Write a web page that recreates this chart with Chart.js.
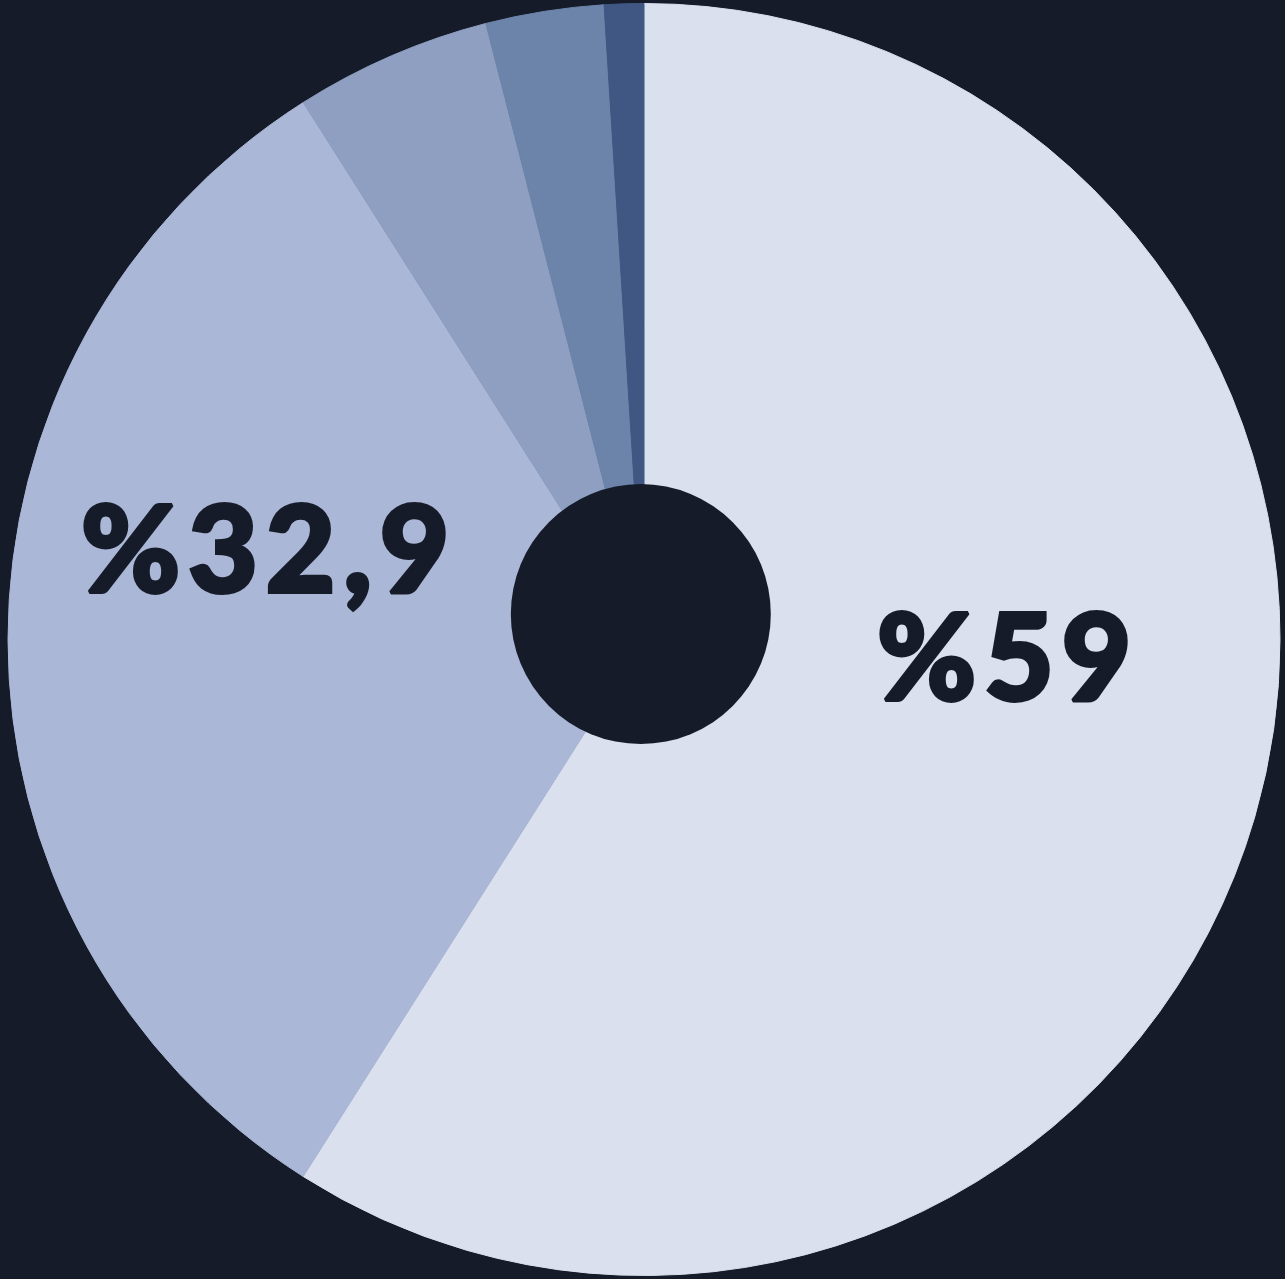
<!DOCTYPE html>
<html>
<head>
<meta charset="utf-8">
<script src="https://cdn.jsdelivr.net/npm/chart.js@4"></script>
<style>
  html, body { margin: 0; padding: 0; background: #151b29; }
  #wrap { width: 1285px; height: 1279px; }
</style>
</head>
<body>
<div id="wrap"><canvas id="pieChart"></canvas></div>
<script>
const categories = ['A', 'B', 'C', 'D', 'E'];
const shares = [59, 32, 5, 3, 1];
const sliceLabels = ['%59', '%32,9', '', '', ''];
const sliceColors = ['#dae0ee', '#abb7d6', '#8e9fc2', '#6d84aa', '#3f5782'];

const bg = '#151b29';

// hole is drawn on top, slightly off the pie centre like in the original
const holePlugin = {
    id: 'hole',
    afterDatasetsDraw(chart) {
        const arc = chart.getDatasetMeta(0).data[0];
        if (!arc) return;
        const r = arc.outerRadius;
        const ctx = chart.ctx;
        ctx.save();
        ctx.fillStyle = bg;
        ctx.beginPath();
        ctx.arc(arc.x - 0.005 * r, arc.y - 0.040 * r, 0.2044 * r, 0, Math.PI * 2);
        ctx.fill();
        ctx.restore();
    }
};

// label offsets from the centre, in units of the outer radius
const labelOffsets = [[0.568, 0.0295], [-0.594, -0.141]];

const labelPlugin = {
    id: 'sliceText',
    afterDraw(chart) {
        const meta = chart.getDatasetMeta(0);
        const ctx = chart.ctx;
        ctx.save();
        ctx.fillStyle = bg;
        ctx.strokeStyle = bg;
        ctx.lineWidth = 4;
        ctx.lineJoin = 'miter';
        ctx.miterLimit = 2;
        ctx.textAlign = 'center';
        ctx.textBaseline = 'alphabetic';
        ctx.font = '900 120px Lato';
        ctx.letterSpacing = '8px';
        sliceLabels.forEach((txt, i) => {
            if (!txt || !labelOffsets[i]) return;
            const arc = meta.data[i];
            const r = arc.outerRadius;
            // trailing letter spacing pushes the text left, so add it back
            const x = arc.x + labelOffsets[i][0] * r + 3;
            const y = arc.y + labelOffsets[i][1] * r + 42;
            ctx.fillText(txt, x, y);
            ctx.strokeText(txt, x, y);
        });
        ctx.restore();
    }
};

new Chart(document.getElementById('pieChart').getContext('2d'), {
    type: 'pie',
    data: {
        labels: categories,
        datasets: [{
            data: shares,
            backgroundColor: sliceColors,
            borderColor: sliceColors,
            borderWidth: 1
        }]
    },
    options: {
        responsive: true,
        maintainAspectRatio: false,
        animation: false,
        layout: { padding: { left: 3, right: 0, top: 3, bottom: 3 } },
        plugins: {
            legend: { display: false },
            tooltip: { enabled: false }
        }
    },
    plugins: [holePlugin, labelPlugin]
});
</script>
</body>
</html>
